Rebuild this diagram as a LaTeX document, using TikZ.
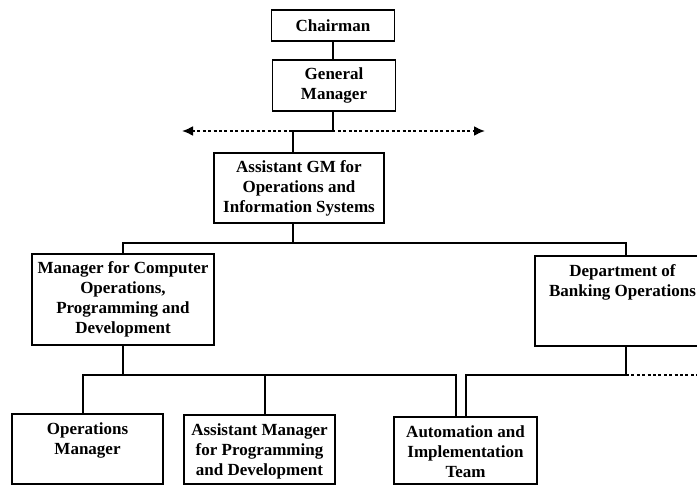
\documentclass[tikz,border=0pt]{standalone}
\usepackage{fontspec}
\setmainfont{Liberation Serif}
\usetikzlibrary{arrows.meta}

% fixed-size text block: width, height, vertical alignment (c/t), content
\newcommand{\orgtext}[4]{\begin{minipage}[c][#2][#3]{#1}\centering
  \ifx t#3\vspace*{9pt}\fi #4\end{minipage}}

\begin{document}
\begin{tikzpicture}[x=1pt,y=-1pt,
  box/.style={draw,line width=1.6pt,inner sep=0pt,outer sep=0pt,
    font=\fontsize{17}{20}\selectfont\bfseries},
  link/.style={line width=1.8pt},
  dotline/.style={line width=2pt,dash pattern=on 3pt off 2.4pt}]

\clip (0,0) rectangle (697,486);
\fill[white] (0,0) rectangle (697,486);

% positions
\node[box] (chair) at (333,25.5)   {\orgtext{123pt}{31pt}{c}{Chairman}};
\node[box] (gm)    at (334,85.5)   {\orgtext{123pt}{51pt}{c}{General\\Manager}};
\node[box] (agm)   at (299,188)    {\orgtext{170pt}{70pt}{c}{Assistant GM for\\Operations and\\Information Systems}};
\node[box] (mgr)   at (123,299.5)  {\orgtext{182pt}{91pt}{c}{Manager for Computer\\Operations,\\Programming and\\Development}};
\node[box] (dept)  at (622.5,301)  {\orgtext{175pt}{90pt}{t}{Department of\\Banking Operations}};
\node[box] (ops)   at (87.5,449)   {\orgtext{151pt}{70pt}{t}{Operations\\Manager}};
\node[box] (asst)  at (259.5,449.5){\orgtext{151pt}{69pt}{t}{Assistant Manager\\for Programming\\and Development}};
\node[box] (auto)  at (465.5,450.5){\orgtext{143pt}{67pt}{t}{Automation and\\Implementation\\Team}};

% junction levels and attachment points
\coordinate (dotL) at (182,131);
\coordinate (dotR) at (485,131);
\coordinate (busA) at (0,243);
\coordinate (busB) at (0,375);
\coordinate (edgeR) at (697,0);
\coordinate (gmout)  at ([xshift=-1pt]gm.south);
\coordinate (agmin)  at ([xshift=-6pt]agm.north);
\coordinate (agmout) at ([xshift=-6pt]agm.south);
\coordinate (deptin) at ([xshift=3.5pt]dept.north);
\coordinate (deptout) at ([xshift=3.5pt]dept.south);
\coordinate (opsin)  at ([xshift=-4.5pt]ops.north);
\coordinate (asstin) at ([xshift=5.5pt]asst.north);
\coordinate (autoL)  at ([xshift=-9.5pt]auto.north);
\coordinate (autoR)  at ([xshift=0.5pt]auto.north);

% lateral (dotted) relation at general-manager level
\draw[dotline,{Latex[length=11pt,width=10pt]}-{Latex[length=11pt,width=10pt]}] (dotL) -- (dotR);

% reporting lines
\draw[link] (chair) -- (chair |- gm.north);
\draw[link] (gmout) -- (gmout |- dotL) -| (agmin);
\draw[link] (agmout) -- (agmout |- busA);
\draw[link] (mgr.north) |- (busA -| deptin) -- (deptin);
\draw[link] (mgr.south) -- (mgr.south |- busB);
\draw[link] (opsin) |- (busB -| autoL) -- (autoL);
\draw[link] (asstin) -- (asstin |- busB);
\draw[link] (deptout) -- (deptout |- busB) -| (autoR);
\draw[dotline] (deptout |- busB) -- (busB -| edgeR);
\end{tikzpicture}
\end{document}
